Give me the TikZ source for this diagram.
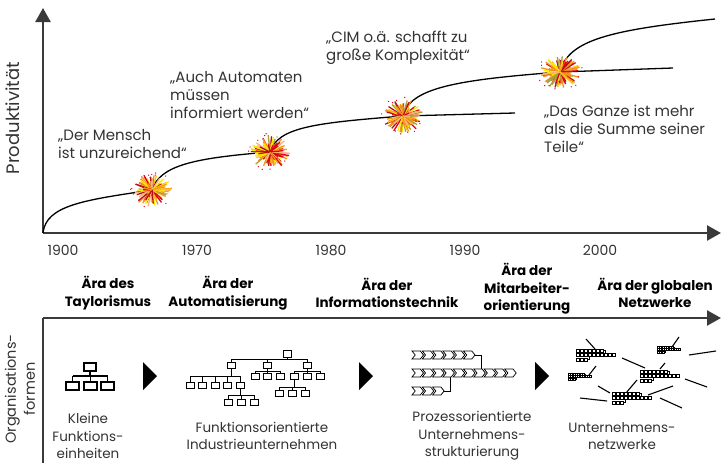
\documentclass[tikz,border=0pt]{standalone}
\usepackage{fontspec}
\setmainfont{Poppins}
\usetikzlibrary{arrows.meta}

\definecolor{axisgray}{HTML}{3A3A3A}
\definecolor{textgray}{HTML}{333333}
\definecolor{bYellow}{HTML}{FFEB00}
\definecolor{bGold}{HTML}{FFC20E}
\definecolor{bOrange}{HTML}{F7941D}
\definecolor{bRed}{HTML}{E3001B}
\definecolor{bDark}{HTML}{B5121B}
\definecolor{bOlive}{HTML}{A8A03A}
\definecolor{bPeach}{HTML}{F9B47B}

\tikzset{
  axisline/.style={draw=axisgray, line width=2.5pt, -{Triangle[length=14pt,width=15pt]}},
  plainaxis/.style={draw=axisgray, line width=2.5pt},
  growth/.style={draw=black, line width=1.3pt},
  quote/.style={text=textgray, font=\fontsize{15}{18}\selectfont, align=left, inner sep=0pt, anchor=base west},
  year/.style={text=textgray, font=\fontsize{14}{16}\selectfont, inner sep=0pt, anchor=base},
  era/.style={text=black, font=\bfseries\fontsize{13.5}{17.5}\selectfont, align=center, inner sep=0pt},
  caption/.style={text=textgray, font=\fontsize{13.5}{17.5}\selectfont, align=center, inner sep=0pt},
  sidelabel/.style={text=textgray, font=\fontsize{14.5}{19}\selectfont, align=center, inner sep=0pt, rotate=90},
  orgline/.style={draw=black, line width=1.1pt},
  smallorg/.style={draw=black, line width=0.8pt},
  tinybox/.style={draw=black, line width=0.5pt},
  netline/.style={draw=black, line width=1.1pt},
  stepmark/.style={fill=black},
}

% box of an organisation chart, centred at (#2,#3), size #4 x #5
\newcommand\obox[5][smallorg]{\draw[#1, fill=white] ({#2-#4/2},{#3-#5/2}) rectangle ({#2+#4/2},{#3+#5/2});}

% one process chevron, left end at x=#1, centred at y=#2
\newcommand\chev[2]{\draw[smallorg, line width=0.75pt, line join=miter] (#1,{#2-4}) -- ({#1+8.3},{#2-4}) -- ({#1+11.5},#2) -- ({#1+8.3},{#2+4}) -- (#1,{#2+4}) -- ({#1+3.2},#2) -- cycle;}

% a small process cluster inside the network
\newcommand\netcluster[3]{%
  \begin{scope}[shift={(#1,#2)}, scale=#3]
    \foreach \i in {0,...,6} {\draw[tinybox] ({\i*4},0) rectangle ++(3.3,3);}
    \draw[tinybox] (27.3,1.5) -- (29.5,1.5) -- (29.5,4.5);
    \foreach \i in {0,...,9} {\draw[tinybox] ({\i*4},4.5) rectangle ++(3.3,3);}
    \foreach \i in {0,...,2} {\draw[tinybox] ({\i*4},9) rectangle ++(3.3,3);}
    \draw[tinybox] (11.3,10.5) -- (13.5,10.5) -- (13.5,7.5);
  \end{scope}}

% coloured starburst at a named coordinate
\newcommand\drawburst[1]{%
  \fill[bGold] (#1) ellipse (5 and 4);
  \foreach \k in {1,...,140}{%
    \pgfmathsetmacro{\ang}{360*rnd}%
    \pgfmathsetmacro{\len}{5+12*rnd}%
    \pgfmathtruncatemacro{\col}{8*rnd}%
    \ifcase\col \def\bc{bYellow}\or \def\bc{bGold}\or \def\bc{bOrange}\or
      \def\bc{bRed}\or \def\bc{bDark}\or \def\bc{bOlive}\or \def\bc{bPeach}\or
      \def\bc{bOrange}\else \def\bc{bYellow}\fi
    \draw[line width=1.3pt, color=\bc] (#1) -- ++({1.2*\len*cos(\ang)},{\len*sin(\ang)});
  }%
  \foreach \k in {1,...,10}{%
    \pgfmathsetmacro{\ang}{360*rnd}%
    \pgfmathsetmacro{\len}{15+4*rnd}%
    \fill[bRed] (#1) ++({1.2*\len*cos(\ang)},{\len*sin(\ang)}) circle (0.7);
  }%
}

\begin{document}
\begin{tikzpicture}[x=1pt, y=-1pt]
\useasboundingbox (0,0) rectangle (721,463);
\pgfmathsetseed{11}

% ---------- productivity chart ----------
\coordinate (O) at (43,233);
\coordinate (ytip) at (43,8);
\coordinate (xtip) at (721,233);
\draw[axisline] (O) -- (ytip);
\draw[axisline] (O) -- (xtip);

\node[sidelabel, font=\fontsize{18}{19}\selectfont] (prod) at (13,118) {Produktivität};

\coordinate (b1) at (152,190);
\coordinate (b2) at (270,152);
\coordinate (b3) at (403,116);
\coordinate (b4) at (560,72);
\coordinate (t3) at (515,113);
\coordinate (t4) at (673,68);
\coordinate (c5) at (715,19);

\draw[growth] (O) .. controls (46,205) and (85,200) .. (b1);
\draw[growth] (b1) .. controls (160,165) and (195,158) .. (b2);
\draw[growth] (b2) .. controls (278,127) and (315,123) .. (b3);
\draw[growth] (b3) .. controls (410,88) and (455,80) .. (b4);
\draw[growth] (b4) .. controls (568,40) and (610,30) .. (c5);
\draw[growth] (b3) -- (t3);
\draw[growth] (b4) -- (t4);

\drawburst{b1}
\drawburst{b2}
\drawburst{b3}
\drawburst{b4}

% multi-line nodes sit on the baseline of their last line
\node[quote] (q1) at (58,158) {„Der Mensch\\ist unzureichend“};
\node[quote] (q2) at (170,118) {„Auch Automaten\\müssen\\informiert werden“};
\node[quote] (q3) at (326,60) {„CIM o.ä. schafft zu\\große Komplexität“};
\node[quote] (q4) at (544,152) {„Das Ganze ist mehr\\als die Summe seiner\\Teile“};

% ---------- time line ----------
\node[year] (y1900) at (63,255) {1900};
\node[year] (y1970) at (197,255) {1970};
\node[year] (y1980) at (331,255) {1980};
\node[year] (y1990) at (465,255) {1990};
\node[year] (y2000) at (600,255) {2000};

\node[era] (e1) at (108,293) {Ära des\\Taylorismus};
\node[era] (e2) at (228,293) {Ära der\\Automatisierung};
\node[era] (e3) at (387,293) {Ära der\\Informationstechnik};
\node[era] (e4) at (527,289) {Ära der\\Mitarbeiter-\\orientierung};
\node[era] (e5) at (655,293) {Ära der globalen\\Netzwerke};

% ---------- organisation forms ----------
\coordinate (L) at (43,318);
\coordinate (Lbot) at (43,463);
\coordinate (Ltip) at (721,318);
\draw[axisline] (L) -- (Ltip);
\draw[plainaxis] (L) -- (Lbot);

\node[sidelabel] (orgf) at (20,389) {Organisations-\\formen};

% small functional units
\draw[orgline] (90,371) -- (90,376);
\draw[orgline] (72.5,376) -- (107.5,376);
\foreach \x in {72.5,90.5,107.5} {\draw[orgline] (\x,376) -- (\x,382);}
\obox[orgline]{90}{367}{12}{8}
\foreach \x in {72.5,90.5,107.5} {\obox[orgline]{\x}{386}{13}{8}}

% step triangles
\fill[stepmark] (143,362) -- (157,376) -- (143,390) -- cycle;
\fill[stepmark] (359,362) -- (373,376) -- (359,390) -- cycle;
\fill[stepmark] (535,362) -- (549,376) -- (535,390) -- cycle;

% functional industrial company
\draw[smallorg] (287,357) -- (287,359);
\draw[smallorg] (231,359) -- (307,359);
\foreach \x in {231,267,307} {\draw[smallorg] (\x,359) -- (\x,363);}
\draw[smallorg] (231,368) -- (231,376) (190,376) -- (240,376);
\foreach \x in {190,202.5,215,227.5,240} {\draw[smallorg] (\x,376) -- (\x,382);}
\draw[smallorg] (240,388) -- (240,395) (228,395) -- (254,395);
\foreach \x in {228,241,254} {\draw[smallorg] (\x,395) -- (\x,399);}
\draw[smallorg] (267,368) -- (267,371) (255,371) -- (280,371);
\foreach \x in {255,267.5,280} {\draw[smallorg] (\x,371) -- (\x,373);}
\draw[smallorg] (307,368) -- (307,371) (294,371) -- (320,371);
\foreach \x in {294,307,320} {\draw[smallorg] (\x,371) -- (\x,373);}
\draw[smallorg] (294,379) -- (294,387) (279,387) -- (305,387);
\foreach \x in {279,292,305} {\draw[smallorg] (\x,387) -- (\x,390);}
\obox{287}{353.5}{8}{7}
\foreach \x in {231,267,307} {\obox{\x}{365.5}{8}{6}}
\foreach \x in {190,202.5,215,227.5,240} {\obox{\x}{385}{8}{6}}
\foreach \x in {228,241,254} {\obox{\x}{402}{8}{6}}
\foreach \x in {255,267.5,280,294,307,320} {\obox{\x}{376}{8}{6}}
\foreach \x in {279,292,305} {\obox{\x}{393}{8}{6}}

% process oriented structure
\draw[smallorg] (475,355) -- (481,355) -- (481,369);
\draw[smallorg] (444,391) -- (450,391) -- (450,377);
\foreach \i in {0,...,5} {\pgfmathsetmacro{\cx}{412+10.3*\i}\chev{\cx}{355}}
\foreach \i in {0,...,9} {\pgfmathsetmacro{\cx}{412+10.3*\i}\chev{\cx}{373}}
\foreach \i in {0,...,2} {\pgfmathsetmacro{\cx}{412+10.3*\i}\chev{\cx}{391}}

% company networks
\netcluster{576}{349}{1}
\netcluster{640}{370}{1}
\netcluster{612}{392}{1}
\netcluster{657}{346}{0.6}
\netcluster{568}{373}{0.6}
\draw[netline] (586,339) -- (595,349);
\draw[netline] (622,358) -- (645,368);
\draw[netline] (679,337) -- (672,347);
\draw[netline] (689,355) -- (716,351);
\draw[netline] (596,366) -- (589,375);
\draw[netline] (665,363) -- (660,369);
\draw[netline] (685,379) -- (707,387);
\draw[netline] (637,380) -- (626,393);
\draw[netline] (648,395) -- (673,386);
\draw[netline] (598,386) -- (610,393);
\draw[netline] (580,398) -- (607,401);
\draw[netline] (660,398) -- (682,408);

\node[caption] (k1) at (88,436) {Kleine\\Funktions-\\einheiten};
\node[caption] (k2) at (262,436) {Funktionsorientierte\\Industrieunternehmen};
\node[caption] (k3) at (472,436) {Prozessorientierte\\Unternehmens-\\strukturierung};
\node[caption] (k4) at (622,436) {Unternehmens-\\netzwerke};
\end{tikzpicture}
\end{document}
